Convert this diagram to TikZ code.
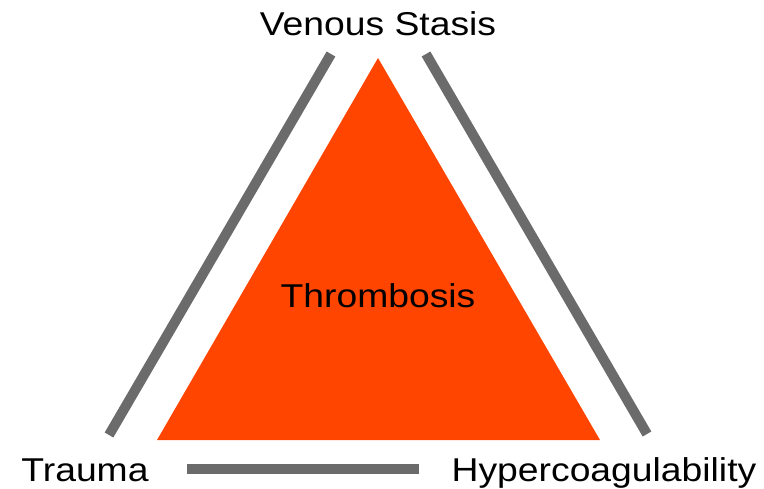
\documentclass[tikz,border=0pt]{standalone}
\usepackage{fontspec}
\setmainfont[FakeStretch=1.13]{Liberation Sans}
\usepackage{xcolor}
\definecolor{clotred}{HTML}{FF4500}
\definecolor{bargray}{HTML}{6B6B6B}

\begin{document}
\begin{tikzpicture}[x=1pt,y=-1pt,
    factor/.style={anchor=base,inner sep=0pt,font=\fontsize{33}{40}\selectfont},
    side bar/.style={draw=bargray,line width=10pt}]
    \useasboundingbox (0,0) rectangle (764,488);
    % central triangle
    \coordinate (apex) at (378,58);
    \coordinate (bl) at (157,440);
    \coordinate (br) at (600,440);
    \fill [clotred] (apex) -- (bl) -- (br) -- cycle;
    \node [factor] (thr) at (378,307) {Thrombosis};
    % the three factors
    \node [factor] (vs) at (378,35) {Venous Stasis};
    \node [factor] (tr) at (85,481) {Trauma};
    \node [factor] (hc) at (604,481) {Hypercoagulability};
    % bars
    \coordinate (l1) at (331,54);
    \coordinate (l2) at (109,435);
    \coordinate (r1) at (426,54);
    \coordinate (r2) at (647,434);
    \coordinate (b1) at (187,469);
    \coordinate (b2) at (419,469);
    \draw [side bar] (l1) to (l2);
    \draw [side bar] (r1) to (r2);
    \draw [side bar] (b1) to (b2);
\end{tikzpicture}
\end{document}
